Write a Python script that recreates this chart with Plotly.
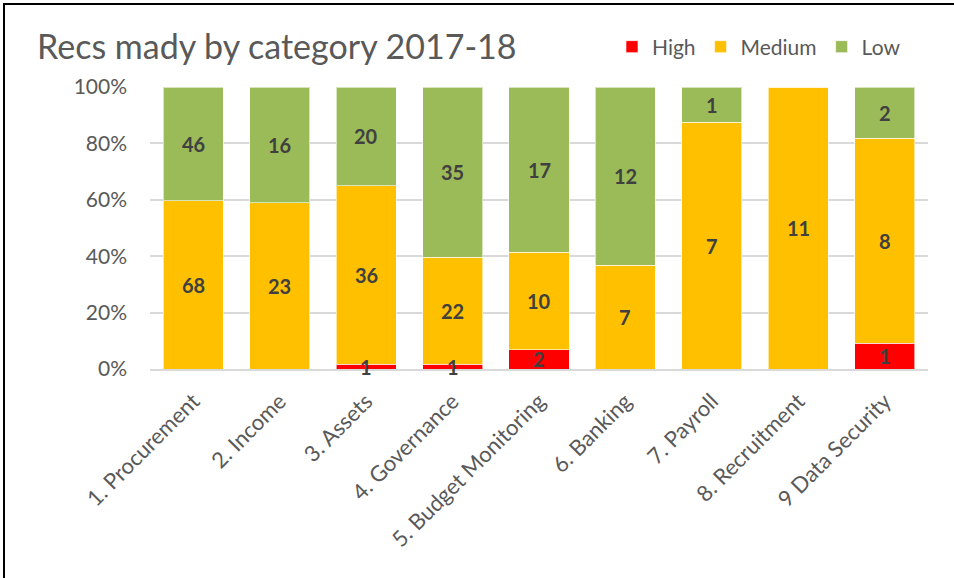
import plotly.graph_objects as go

categories = ["1. Procurement", "2. Income", "3. Assets", "4. Governance",
              "5. Budget Monitoring", "6. Banking", "7. Payroll",
              "8. Recruitment", "9 Data Security"]
high = [0, 0, 1, 1, 2, 0, 0, 0, 1]
medium = [68, 23, 36, 22, 10, 7, 7, 11, 8]
low = [46, 16, 20, 35, 17, 12, 1, 0, 2]
y_ticks = [0, 20, 40, 60, 80, 100]
y_tick_labels = ["0%", "20%", "40%", "60%", "80%", "100%"]

W, H = 954, 578
ML, MR, MT, MB = 150, 26, 87, 209
FONT = "Lato, Carlito, Calibri, sans-serif"

series = [("High", high, "#FF0000"),
          ("Medium", medium, "#FFC000"),
          ("Low", low, "#9BBB59")]

fig = go.Figure()
for name, vals, color in series:
    fig.add_trace(go.Bar(
        name=name, x=categories, y=vals,
        marker=dict(color=color, line=dict(color="rgba(255,255,255,0.6)", width=1)),
        hoverinfo="skip",
    ))

# data labels, centred on each segment (percent of the category total)
totals = [h + m + l for h, m, l in zip(high, medium, low)]
annotations = []
base = [0] * len(categories)
for name, vals, color in series:
    for i, v in enumerate(vals):
        if v:
            mid = (base[i] + v / 2) / totals[i] * 100
            annotations.append(dict(
                x=categories[i], y=mid, xref="x", yref="y", text=str(v),
                showarrow=False, xanchor="center", yanchor="middle",
                font=dict(family=FONT, size=20, color="#404040", weight="bold")))
        base[i] += v

pw = W - ML - MR
ph = H - MT - MB
def px_to_paper_x(px):
    return (px - ML) / pw
def px_to_paper_y(py):
    return 1 - (py - MT) / ph

fig.update_layout(
    width=W, height=H,
    barmode="stack", barnorm="percent", bargap=0.305,
    margin=dict(l=ML, r=MR, t=MT, b=MB),
    paper_bgcolor="white", plot_bgcolor="white",
    font=dict(family=FONT, color="#595959"),
    title=dict(text="Recs mady by category 2017-18", x=37 / W, xanchor="left",
               y=1 - 47 / H, yanchor="middle",
               font=dict(family=FONT, size=34, color="#595959")),
    legend=dict(orientation="h", x=px_to_paper_x(612), xanchor="left",
                y=px_to_paper_y(47), yanchor="middle",
                font=dict(family=FONT, size=21, color="#595959"),
                itemwidth=30, traceorder="normal", bgcolor="rgba(0,0,0,0)"),
    xaxis=dict(tickangle=-45, tickfont=dict(family=FONT, size=22, color="#595959"),
               showline=True, linecolor="#D9D9D9", linewidth=1.5, ticks="",
               ticklabelstandoff=9),
    yaxis=dict(range=[0, 100], tickvals=y_ticks, ticktext=y_tick_labels,
               tickfont=dict(family=FONT, size=21, color="#595959"),
               showgrid=True, gridcolor="#D9D9D9", gridwidth=1.5,
               zeroline=False, ticks="", ticklabelstandoff=22),
    annotations=annotations,
    showlegend=True,
    shapes=[
        dict(type="line", xref="paper", yref="paper",
             x0=px_to_paper_x(4), x1=px_to_paper_x(W + 5),
             y0=px_to_paper_y(4), y1=px_to_paper_y(4),
             line=dict(color="black", width=2)),
        dict(type="line", xref="paper", yref="paper",
             x0=px_to_paper_x(4), x1=px_to_paper_x(4),
             y0=px_to_paper_y(3), y1=px_to_paper_y(H + 5),
             line=dict(color="black", width=2)),
    ],
)

fig.write_html("out.html")
